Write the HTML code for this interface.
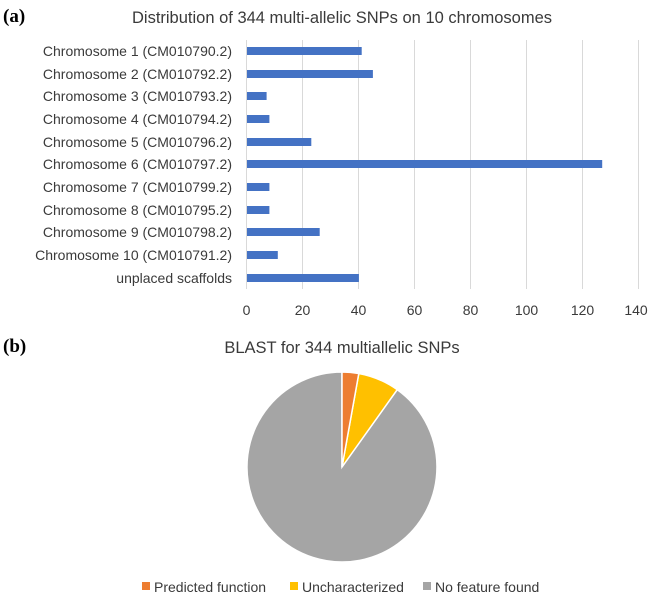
<!DOCTYPE html>
<html><head><meta charset="utf-8"><style>
body{margin:0;background:#fff;width:650px;height:598px;overflow:hidden}
svg text{font-family:"Liberation Sans",sans-serif;fill:#3a3a3a}
</style></head><body>
<svg width="650" height="598" viewBox="0 0 650 598">
<text x="3" y="22" style="font-family:'Liberation Serif',serif;font-weight:bold;font-size:19px;fill:#000">(a)</text>
<text x="342" y="23" text-anchor="middle" font-size="16.5">Distribution of 344 multi-allelic SNPs on 10 chromosomes</text>
<g stroke="#d9d9d9" stroke-width="1">
<line x1="246.5" y1="40" x2="246.5" y2="289"/><line x1="302.5" y1="40" x2="302.5" y2="289"/><line x1="358.5" y1="40" x2="358.5" y2="289"/><line x1="414.5" y1="40" x2="414.5" y2="289"/><line x1="470.5" y1="40" x2="470.5" y2="289"/><line x1="526.5" y1="40" x2="526.5" y2="289"/><line x1="582.5" y1="40" x2="582.5" y2="289"/><line x1="638.5" y1="40" x2="638.5" y2="289"/>
</g>
<g fill="#4472c4">
<rect x="247" y="47" width="114.7" height="8"/>
<rect x="247" y="70" width="125.9" height="8"/>
<rect x="247" y="92" width="19.6" height="8"/>
<rect x="247" y="115" width="22.4" height="8"/>
<rect x="247" y="138" width="64.3" height="8"/>
<rect x="247" y="160" width="355.2" height="8"/>
<rect x="247" y="183" width="22.4" height="8"/>
<rect x="247" y="206" width="22.4" height="8"/>
<rect x="247" y="228" width="72.7" height="8"/>
<rect x="247" y="251" width="30.8" height="8"/>
<rect x="247" y="274" width="111.9" height="8"/>
</g>
<g font-size="14" text-anchor="end">
<text x="232" y="56">Chromosome 1 (CM010790.2)</text>
<text x="232" y="79">Chromosome 2 (CM010792.2)</text>
<text x="232" y="101">Chromosome 3 (CM010793.2)</text>
<text x="232" y="124">Chromosome 4 (CM010794.2)</text>
<text x="232" y="147">Chromosome 5 (CM010796.2)</text>
<text x="232" y="169">Chromosome 6 (CM010797.2)</text>
<text x="232" y="192">Chromosome 7 (CM010799.2)</text>
<text x="232" y="215">Chromosome 8 (CM010795.2)</text>
<text x="232" y="237">Chromosome 9 (CM010798.2)</text>
<text x="232" y="260">Chromosome 10 (CM010791.2)</text>
<text x="232" y="283">unplaced scaffolds</text>
</g>
<g font-size="14" text-anchor="middle">
<text x="246.5" y="315">0</text><text x="302.5" y="315">20</text><text x="358.5" y="315">40</text><text x="414.5" y="315">60</text><text x="470.5" y="315">80</text><text x="526.5" y="315">100</text><text x="582.5" y="315">120</text><text x="636" y="315">140</text>
</g>
<text x="3" y="352" style="font-family:'Liberation Serif',serif;font-weight:bold;font-size:19px;fill:#000">(b)</text>
<text x="342" y="353" text-anchor="middle" font-size="16.5">BLAST for 344 multiallelic SNPs</text>
<g stroke="#fff" stroke-width="1.5">
<path d="M342,467 L397.2,389.7 A95,95 0 1,1 342,372 Z" fill="#a5a5a5"/>
<path d="M342,467 L358.8,373.5 A95,95 0 0,1 397.2,389.7 Z" fill="#ffc000"/>
<path d="M342,467 L342,372 A95,95 0 0,1 358.8,373.5 Z" fill="#ed7d31"/>
</g>
<rect x="142" y="582" width="8" height="8" fill="#ed7d31"/>
<text x="154" y="592" font-size="14">Predicted function</text>
<rect x="290" y="582" width="8" height="8" fill="#ffc000"/>
<text x="302" y="592" font-size="14">Uncharacterized</text>
<rect x="423" y="582" width="8" height="8" fill="#a5a5a5"/>
<text x="435" y="592" font-size="14">No feature found</text>
</svg>
</body></html>
